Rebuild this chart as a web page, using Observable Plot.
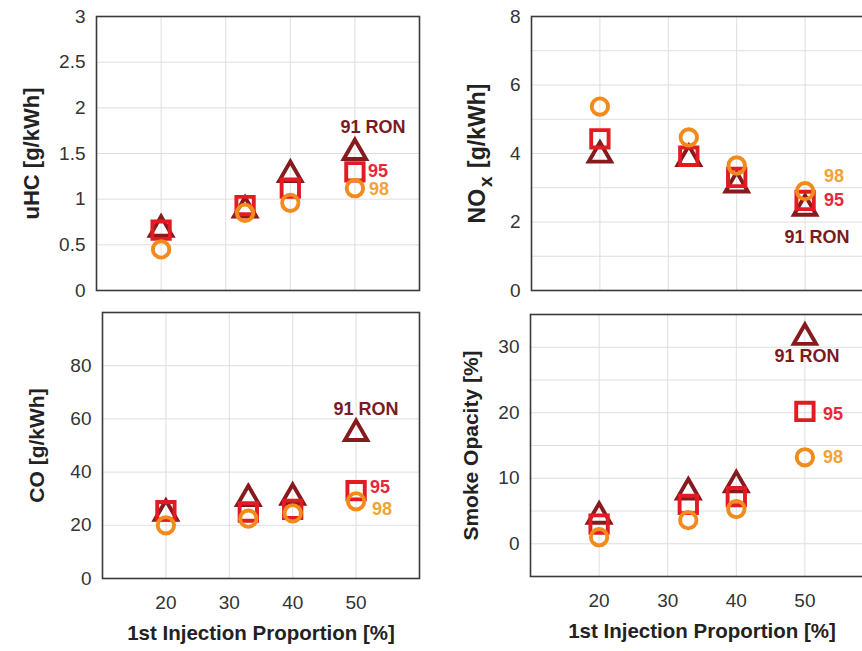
<!DOCTYPE html>
<html><head><meta charset="utf-8">
<script src="https://cdn.jsdelivr.net/npm/d3@7"></script>
<script src="https://cdn.jsdelivr.net/npm/@observablehq/plot@0.6"></script>
<style>
html,body{margin:0;padding:0;background:#fff;overflow:hidden;}
#wrap{position:relative;width:862px;height:651px;overflow:hidden;background:#fff;}
#wrap > svg{position:absolute;}
</style></head><body><div id="wrap"></div>
<script>
// ---- data ----
const proportions = [20, 33, 40, 50];
const xTicks = [20, 30, 40, 50];
const seriesLabels = ["91 RON", "95", "98"];
const symbols = ["triangle", "square", "circle"];

const uhc91 = [0.67, 0.88, 1.27, 1.51];
const uhc95 = [0.66, 0.93, 1.12, 1.30];
const uhc98 = [0.45, 0.85, 0.96, 1.12];

const nox91 = [3.95, 3.85, 3.08, 2.40];
const nox95 = [4.43, 3.92, 3.30, 2.63];
const nox98 = [5.37, 4.47, 3.65, 2.90];

const co91 = [24.5, 30.0, 30.5, 54.5];
const co95 = [25.5, 25.0, 26.0, 33.0];
const co98 = [20.0, 22.5, 24.5, 29.0];

const smoke91 = [4.2, 7.9, 9.0, 31.5];
const smoke95 = [3.0, 6.0, 7.2, 20.2];
const smoke98 = [1.0, 3.6, 5.3, 13.2];

const uhcTicks = [0, 0.5, 1, 1.5, 2, 2.5, 3];
const uhcGrid = [0.5, 1, 1.5, 2, 2.5];
const noxTicks = [0, 2, 4, 6, 8];
const noxGrid = [1, 2, 3, 4, 5, 6, 7];
const coTicks = [0, 20, 40, 60, 80];
const coGrid = [20, 40, 60, 80];
const smokeTicks = [0, 10, 20, 30];
const smokeGrid = [0, 5, 10, 15, 20, 25, 30];

// ---- styles ----
const markerColors = ["#861a1c", "#e21b23", "#f28a1c"];
const labelColors = ["#7a1b24", "#e8283a", "#f2a236"];
const markerR = [8.3, 9.8, 8.2];
const gridColor = "#dedede";
const font = "'Liberation Sans', Arial, Helvetica, sans-serif";

function panel(o) {
  const marks = [
    Plot.ruleY(o.yGrid, {stroke: gridColor, strokeWidth: 1}),
    Plot.ruleX(xTicks, {stroke: gridColor, strokeWidth: 1}),
    Plot.frame({stroke: "#3a3a3a", strokeWidth: 1.6})
  ];
  o.values.forEach((vals, i) => {
    const data = proportions.map((p, j) => ({x: p, y: vals[j]}));
    marks.push(Plot.dot(data, {x: "x", y: "y", symbol: symbols[i], r: markerR[i],
      stroke: markerColors[i], strokeWidth: 3.9, fill: "none"}));
  });
  o.values.forEach((vals, i) => {
    const last = proportions.length - 1;
    const off = o.labelOff[i];
    marks.push(Plot.text([{x: proportions[last], y: vals[last], t: seriesLabels[i]}], {
      x: "x", y: "y", text: "t", dx: off[0], dy: off[1], textAnchor: off[2],
      fill: labelColors[i], fontWeight: "bold", fontSize: 18, lineAnchor: "middle"
    }));
  });
  marks.push(Plot.text([o.yLabel], {frameAnchor: "left", rotate: -90, dx: o.yLabelDx,
    textAnchor: "middle", lineAnchor: "middle", fontWeight: "bold", fontSize: o.yLabelSize, fill: "#222"}));
  if (o.showX) {
    marks.push(Plot.text(["1st Injection Proportion [%]"], {frameAnchor: "bottom", dy: 55,
      textAnchor: "middle", lineAnchor: "middle", fontWeight: "bold", fontSize: 20.5, fill: "#222"}));
  }
  const svg = Plot.plot({
    width: o.width, height: o.height,
    marginLeft: o.m[0], marginRight: o.m[1], marginTop: o.m[2], marginBottom: o.m[3],
    style: {fontFamily: font, fontSize: "19px", color: "#333", background: "transparent", overflow: "visible"},
    x: o.showX
      ? {domain: [10, 60], ticks: xTicks, tickSize: 0, tickPadding: 17, label: null, tickFormat: d => String(d)}
      : {domain: [10, 60], axis: null},
    y: {domain: o.yDomain, ticks: o.yTicks, tickSize: 0, tickPadding: 11, label: null, tickFormat: d => String(d)},
    marks
  });
  svg.style.left = o.left + "px";
  svg.style.top = o.top + "px";
  // subscript for NOx
  svg.querySelectorAll("text").forEach(t => {
    if (t.textContent === "NOx [g/kWh]") {
      t.textContent = "";
      const ns = "http://www.w3.org/2000/svg";
      const a = document.createElementNS(ns, "tspan"); a.textContent = "NO";
      const b = document.createElementNS(ns, "tspan"); b.textContent = "x";
      b.setAttribute("dy", "0.35em"); b.setAttribute("dx", "2"); b.setAttribute("font-size", "19");
      const c = document.createElementNS(ns, "tspan"); c.textContent = " [g/kWh]";
      c.setAttribute("dy", "-0.3em"); c.setAttribute("dx", "2");
      t.append(a, b, c);
    }
  });
  document.getElementById("wrap").appendChild(svg);
}

panel({values: [uhc91, uhc95, uhc98], yDomain: [0, 3], yTicks: uhcTicks, yGrid: uhcGrid,
  yLabel: "uHC [g/kWh]", yLabelDx: -65, yLabelSize: 22, left: 0, top: 0, width: 431, height: 300,
  m: [96, 12, 16, 10], showX: false,
  labelOff: [[18, -25, "middle"], [13, -1, "start"], [14, 1, "start"]]});

panel({values: [nox91, nox95, nox98], yDomain: [0, 8], yTicks: noxTicks, yGrid: noxGrid,
  yLabel: "NOx [g/kWh]", yLabelDx: -54, yLabelSize: 23, left: 431, top: 0, width: 451, height: 300,
  m: [100, 9, 16, 10], showX: false,
  labelOff: [[12, 29, "middle"], [19, 0, "start"], [19, -15, "start"]]});

panel({values: [co91, co95, co98], yDomain: [0, 100], yTicks: coTicks, yGrid: coGrid,
  yLabel: "CO [g/kWh]", yLabelDx: -65, yLabelSize: 21, left: 0, top: 300, width: 431, height: 351,
  m: [102, 12, 12, 73], showX: true,
  labelOff: [[10, -24, "middle"], [14, -3, "start"], [16, 8, "start"]]});

panel({values: [smoke91, smoke95, smoke98], yDomain: [-5, 35], yTicks: smokeTicks, yGrid: smokeGrid,
  yLabel: "Smoke Opacity [%]", yLabelDx: -59, yLabelSize: 21, left: 431, top: 300, width: 451, height: 351,
  m: [99, 9, 14, 75], showX: true,
  labelOff: [[2, 19, "middle"], [18, 3, "start"], [18, 0, "start"]]});
</script>
</body></html>
